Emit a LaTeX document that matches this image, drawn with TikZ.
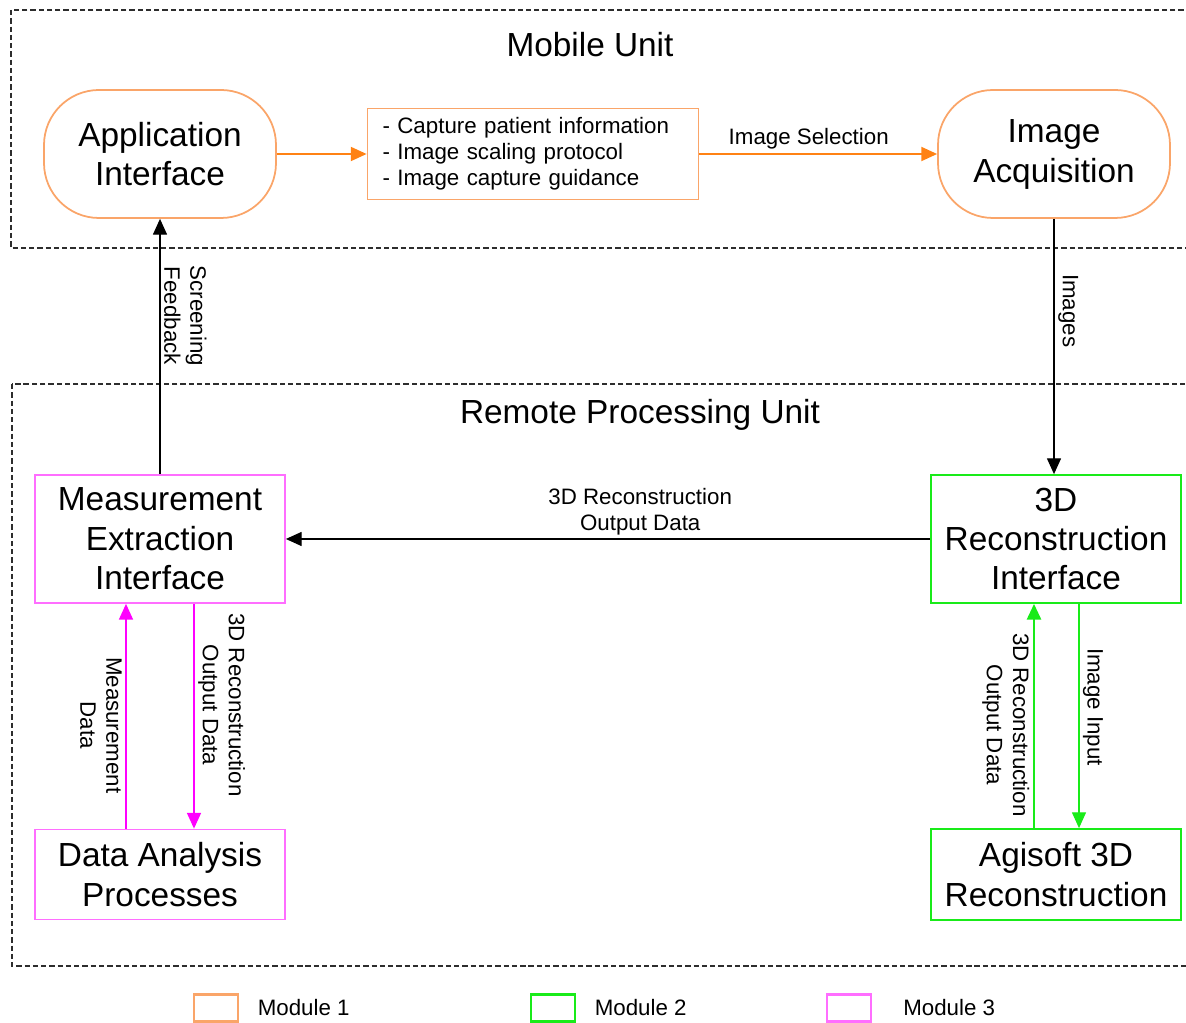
\documentclass[tikz,border=0pt]{standalone}
\usepackage{fontspec}
\setmainfont{Liberation Sans}
\usepackage{xcolor}
\definecolor{orange-400}{RGB}{250,165,105}
\definecolor{orange-500}{RGB}{255,130,20}
\definecolor{green-500}{RGB}{25,235,25}
\definecolor{magenta-400}{RGB}{255,110,255}
\definecolor{magenta-500}{RGB}{255,0,255}
\definecolor{gray-700}{RGB}{45,45,45}
\usepackage{tikz}
\usetikzlibrary{arrows.meta,positioning}

\begin{document}
\begin{tikzpicture}[
    unit frame/.style={
        draw=gray-700,
        line width=1.2pt,
        dash pattern=on 3pt off 1.7pt
    },
    unit title/.style={
        font=\fontsize{19}{22}\selectfont
    },
    app box/.style={
        draw=orange-400,
        line width=1pt,
        rounded corners=1.1cm,
        minimum width=4.64cm,
        minimum height=2.56cm,
        inner sep=0pt,
        align=center,
        font=\fontsize{19}{22.4}\selectfont
    },
    list box/.style={
        draw=orange-400,
        line width=1pt,
        text width=6.02cm,
        inner xsep=0.3cm,
        minimum height=1.82cm,
        align=left,
        font=\fontsize{12.7}{14.8}\selectfont
    },
    module box/.style={
        draw,
        line width=1pt,
        minimum width=5cm,
        inner sep=0pt,
        align=center,
        font=\fontsize{19}{22.4}\selectfont
    },
    flow label/.style={
        font=\fontsize{12.7}{14.8}\selectfont,
        align=center,
        inner sep=2pt
    },
    legend box/.style={
        draw,
        line width=1.2pt,
        minimum width=0.88cm,
        minimum height=0.54cm
    },
    legend text/.style={
        font=\fontsize{12.7}{14.8}\selectfont,
        right=0.25cm
    },
    arrow/.style={-{Triangle[length=9pt,width=8pt]}, line width=0.7pt}
]
\useasboundingbox (0,0) rectangle (23.72,20.46);

% Frames
\draw[unit frame] (0.22,20.26) rectangle (24.2,15.5);
\draw[unit frame] (0.24,12.78) rectangle (24.2,1.14);
\node[unit title] (mobile) at (11.8,19.56) {Mobile Unit};
\node[unit title] (remote) at (12.8,12.16) {Remote Processing Unit};

% Mobile unit
\node[app box] (app) at (3.2,17.38) {Application\\Interface};
\node[list box] (tasks) at (10.66,17.38) {
    - Capture patient information\\
    - Image scaling protocol\\
    - Image capture guidance
};
\node[app box] (acq) at (21.08,17.38) {\vphantom{l}Image\\Acquisition};

% Remote processing unit
\node[module box, draw=magenta-400, minimum height=2.56cm] (meas) at (3.2,9.68) {Measurement\\Extraction\\Interface};
\node[module box, draw=green-500, minimum height=2.56cm] (recon) at (21.12,9.68) {3D\\Reconstruction\\Interface};
\node[module box, draw=magenta-400, minimum height=1.8cm] (data) at (3.2,2.97) {Data Analysis\\Processes};
\node[module box, draw=green-500, minimum height=1.82cm] (agisoft) at (21.12,2.97) {Agisoft 3D\\Reconstruction};

% Arrows
\draw[arrow, orange-500, line width=1pt] (app.east) -- (tasks.west);
\draw[arrow, orange-500, line width=1pt] (tasks.east) -- node[flow label, text=black, above, pos=0.46] {Image Selection} (acq.west);
\draw[arrow] (acq.south) -- node[flow label, rotate=-90, anchor=south, pos=0.36] {Images} (acq.south |- recon.north);
\draw[arrow] (meas.north) -- node[flow label, rotate=-90, anchor=south, pos=0.62] {Screening\\Feedback} (app.south);
\draw[arrow] (recon.west) -- node[flow label, above, pos=0.45] {3D Reconstruction\\Output Data} (meas.east);

\draw[arrow, magenta-500, line width=0.9pt] ([xshift=-0.68cm]data.north) -- node[flow label, text=black, rotate=-90, anchor=north, pos=0.46] {Measurement\\Data} ([xshift=-0.68cm]meas.south);
\draw[arrow, magenta-500, line width=0.9pt] ([xshift=0.68cm]meas.south) -- node[flow label, text=black, rotate=-90, anchor=south, pos=0.45] {3D Reconstruction\\Output Data} ([xshift=0.68cm]data.north);

\draw[arrow, green-500, line width=1.5pt] ([xshift=-0.44cm]agisoft.north) -- node[flow label, text=black, rotate=-90, anchor=north, pos=0.46] {3D Reconstruction\\Output Data} ([xshift=-0.44cm]recon.south);
\draw[arrow, green-500, line width=0.6pt] ([xshift=0.46cm]recon.south) -- node[flow label, text=black, rotate=-90, anchor=south, pos=0.46] {Image Input} ([xshift=0.46cm]agisoft.north);

% Legend
\node[legend box, draw=orange-400] (leg1) at (4.32,0.3) {};
\node[legend text] (leg1 text) [right=0.25cm of leg1] {Module 1};
\node[legend box, draw=green-500] (leg2) at (11.06,0.3) {};
\node[legend text] (leg2 text) [right=0.25cm of leg2] {Module 2};
\node[legend box, draw=magenta-400] (leg3) at (16.98,0.3) {};
\node[legend text] (leg3 text) [right=0.5cm of leg3] {Module 3};

\end{tikzpicture}
\end{document}
